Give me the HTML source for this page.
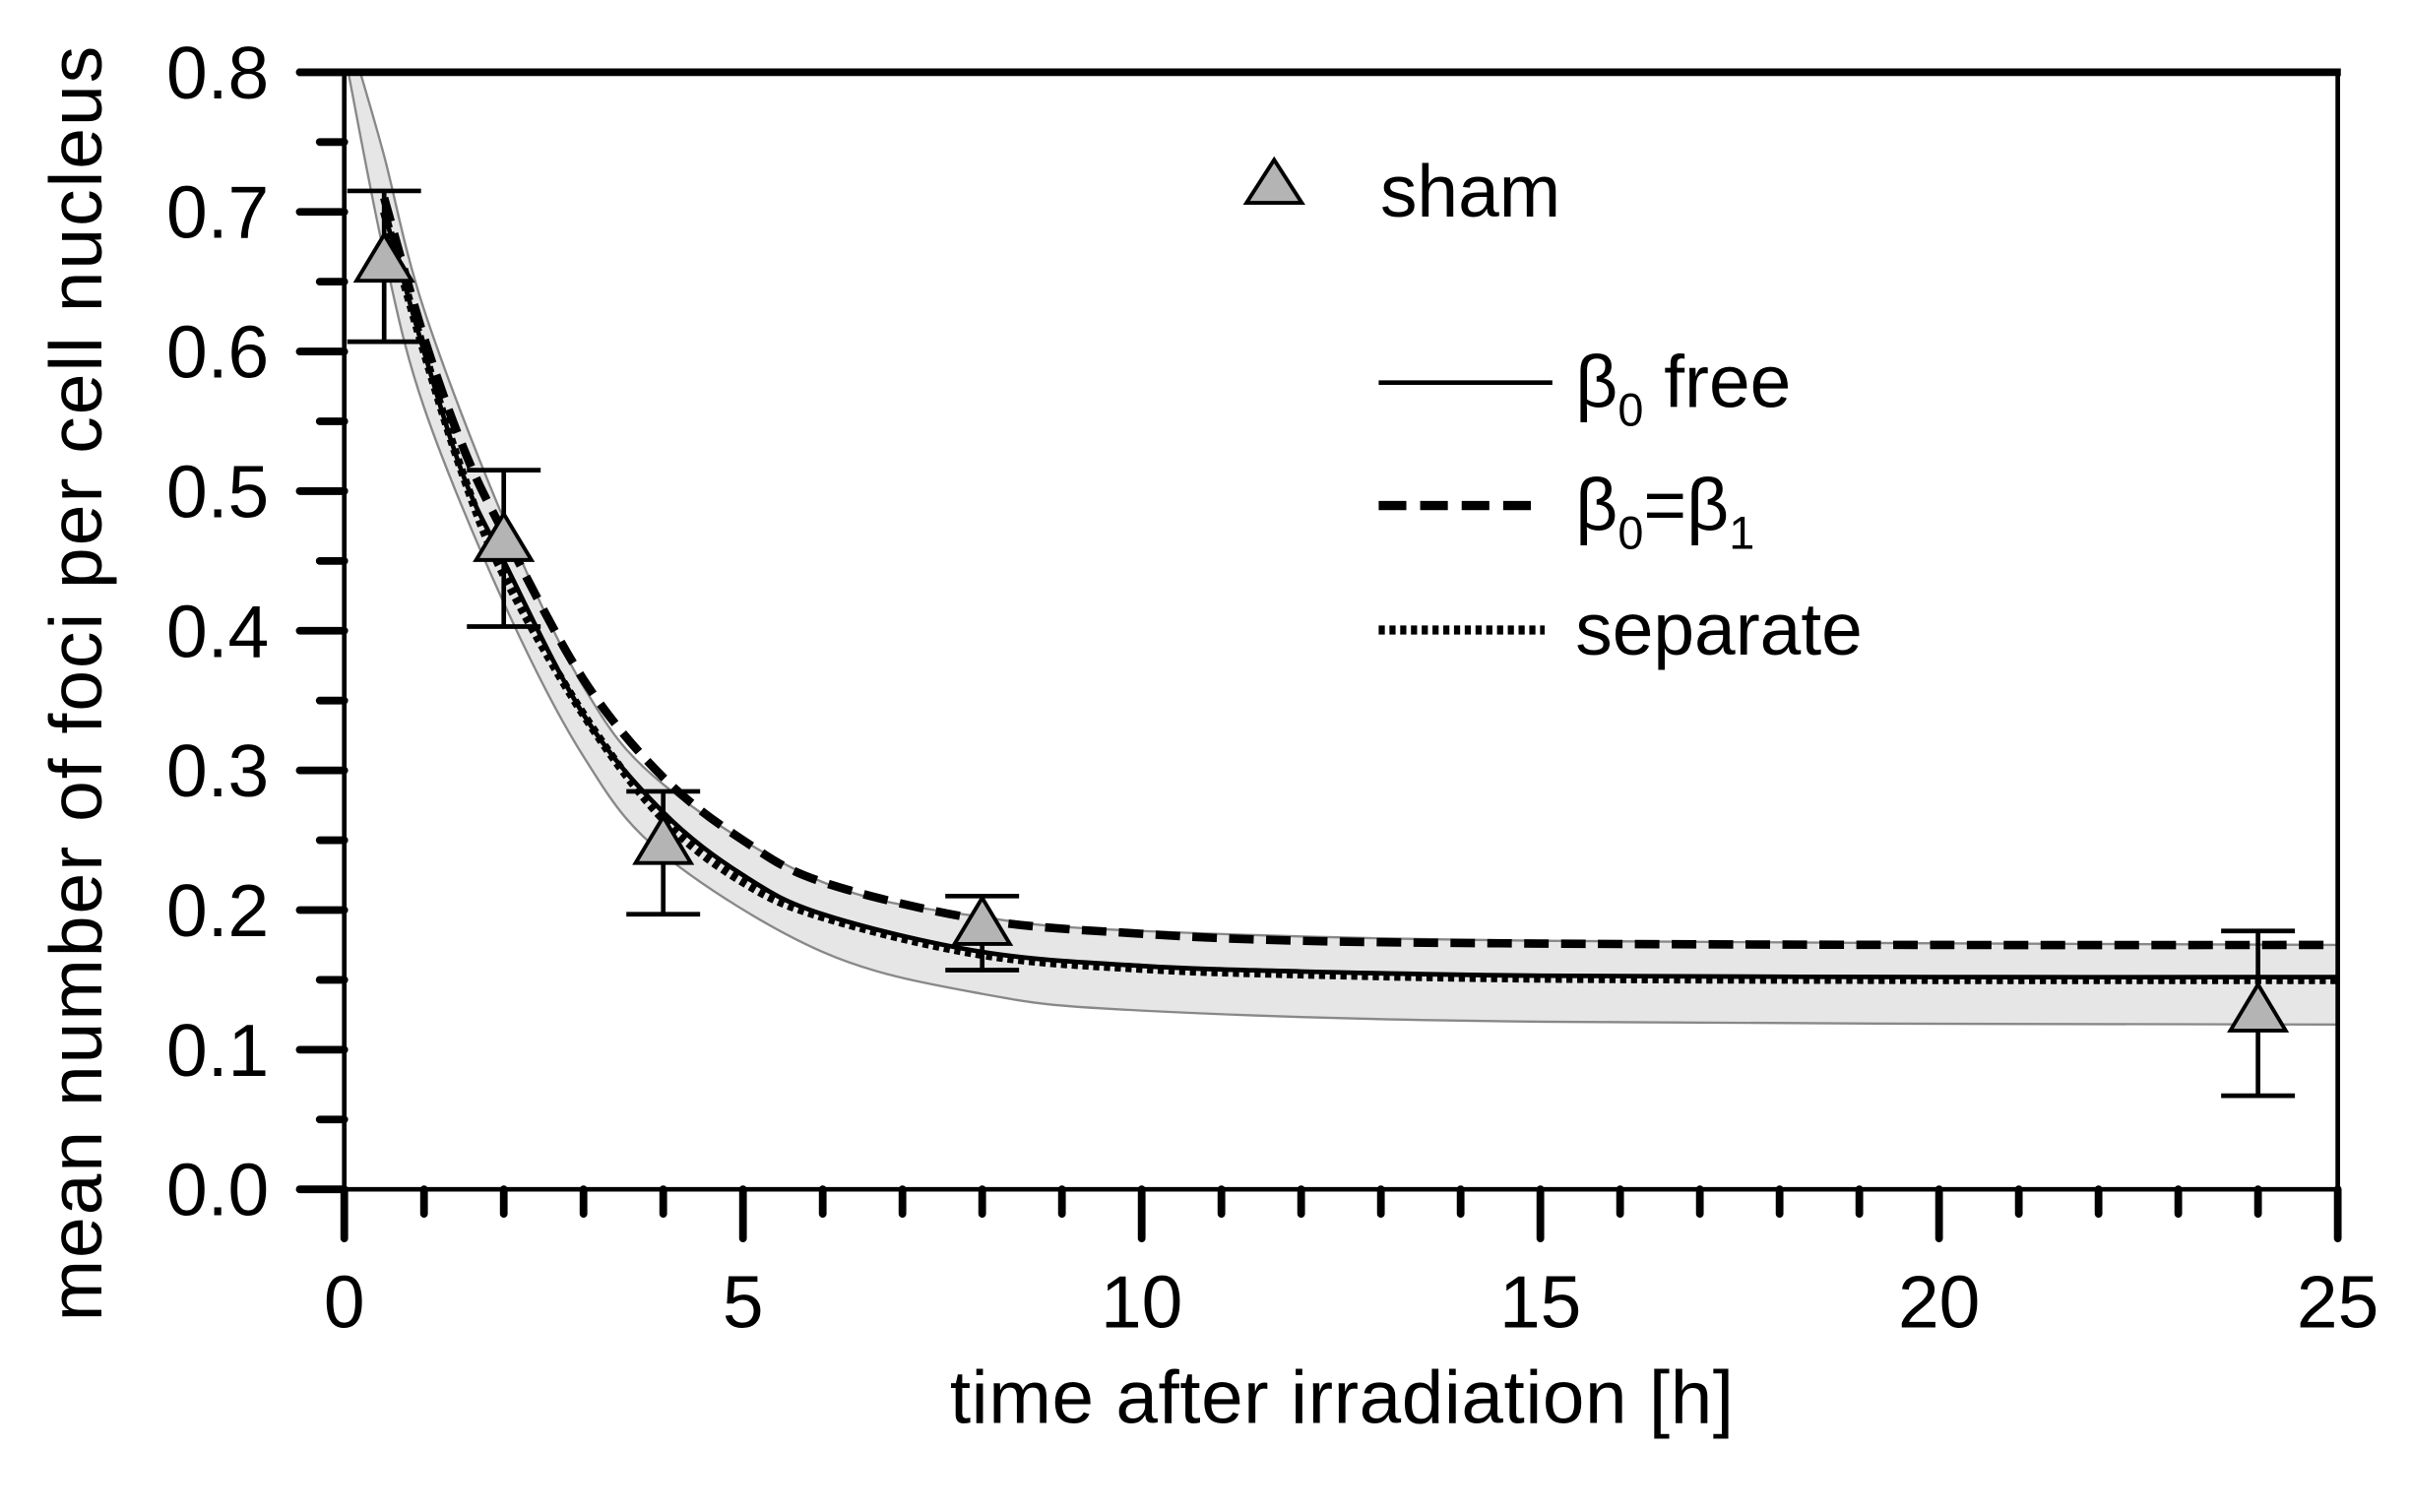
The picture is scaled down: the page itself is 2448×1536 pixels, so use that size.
<!DOCTYPE html>
<html><head><meta charset="utf-8">
<style>
html,body{margin:0;padding:0;background:#fff;}
svg{display:block;}
text{font-family:"Liberation Sans","DejaVu Sans",sans-serif;fill:#000;}
</style></head>
<body>
<svg id="chart" width="2448" height="1536" viewBox="0 0 1568 984" preserveAspectRatio="none" xmlns="http://www.w3.org/2000/svg">
<g id="band"></g>
<g id="curves"></g>
<g id="axes"></g>
<g id="points"></g>
<text x="873" y="926" font-size="49" text-anchor="middle" textLength="510">time after irradiation [h]</text>
<text transform="translate(66,445) rotate(-90)" font-size="48" text-anchor="middle" textLength="830">mean number of foci per cell nucleus</text>
<g>
  <polygon points="829,104 811,132 847,132" fill="#b4b4b4" stroke="#000" stroke-width="2.5"/>
  <text x="898" y="141" font-size="48">sham</text>
  <line x1="897" y1="249" x2="1010" y2="249" stroke="#000" stroke-width="3"/>
  <text x="1025" y="265" font-size="48">β<tspan font-size="30" dy="12">0</tspan><tspan dy="-12"> free</tspan></text>
  <line x1="897" y1="329" x2="1000" y2="329" stroke="#000" stroke-width="6" stroke-dasharray="18,9"/>
  <text x="1025" y="345" font-size="48">β<tspan font-size="30" dy="12">0</tspan><tspan dy="-12">=β</tspan><tspan font-size="30" dy="12">1</tspan></text>
  <line x1="897" y1="410" x2="1005" y2="410" stroke="#000" stroke-width="6" stroke-dasharray="4,3"/>
  <text x="1025" y="426" font-size="48">separate</text>
</g>
</svg>
<script>
const pointX = [0.5, 2, 4, 8, 24];
const pointY = [0.665, 0.465, 0.248, 0.19, 0.128];
const errLow = [0.607, 0.403, 0.197, 0.157, 0.067];
const errHigh = [0.715, 0.515, 0.285, 0.21, 0.185];
const curveT = [0.5, 1, 1.5, 2, 3, 4, 5, 6, 8, 10, 12, 15, 20, 25];
const freeY = [0.70, 0.60, 0.51, 0.45, 0.34, 0.27, 0.225, 0.197, 0.170, 0.160, 0.156, 0.153, 0.152, 0.152];
const equalY = [0.71, 0.61, 0.53, 0.47, 0.365, 0.295, 0.25, 0.22, 0.193, 0.183, 0.178, 0.176, 0.175, 0.175];
const separateY = [0.70, 0.60, 0.51, 0.44, 0.34, 0.265, 0.22, 0.195, 0.168, 0.158, 0.154, 0.151, 0.150, 0.150];
const bandUpperT = [0.2, 0.5, 1, 2, 3, 4, 6, 8, 10, 15, 25];
const bandUpperY = [0.8, 0.74, 0.63, 0.48, 0.36, 0.29, 0.22, 0.195, 0.185, 0.178, 0.175];
const bandLowerT = [0.05, 0.5, 1, 2, 3, 4, 6, 8, 10, 15, 25];
const bandLowerY = [0.8, 0.67, 0.56, 0.42, 0.31, 0.24, 0.17, 0.14, 0.128, 0.12, 0.118];
const xTicks = [0, 5, 10, 15, 20, 25];
const yTicks = [0.0, 0.1, 0.2, 0.3, 0.4, 0.5, 0.6, 0.7, 0.8];

const X0 = 224, X1 = 1521, Y0 = 774, Y1 = 47;
const sx = v => X0 + (v / 25) * (X1 - X0);
const sy = v => Y0 - (v / 0.8) * (Y0 - Y1);
const NS = 'http://www.w3.org/2000/svg';
function mk(tag, attrs, parent) {
  const e = document.createElementNS(NS, tag);
  for (const k in attrs) e.setAttribute(k, attrs[k]);
  parent.appendChild(e);
  return e;
}
function smooth(pts) {
  let d = 'M' + pts[0][0] + ',' + pts[0][1];
  for (let i = 0; i < pts.length - 1; i++) {
    const p0 = pts[Math.max(0, i - 1)], p1 = pts[i], p2 = pts[i + 1], p3 = pts[Math.min(pts.length - 1, i + 2)];
    const c1 = [p1[0] + (p2[0] - p0[0]) / 6, p1[1] + (p2[1] - p0[1]) / 6];
    const c2 = [p2[0] - (p3[0] - p1[0]) / 6, p2[1] - (p3[1] - p1[1]) / 6];
    d += ' C' + c1[0] + ',' + c1[1] + ' ' + c2[0] + ',' + c2[1] + ' ' + p2[0] + ',' + p2[1];
  }
  return d;
}
const band = document.getElementById('band');
const up = bandUpperT.map((t, i) => [sx(t), sy(bandUpperY[i])]);
const lo = bandLowerT.map((t, i) => [sx(t), sy(bandLowerY[i])]);
const upD = smooth(up), loD = smooth(lo);
const loRev = smooth(lo.slice().reverse()).replace(/^M[^C]*/, '');
const fill = mk('path', {d: upD + ' L' + lo[lo.length-1][0] + ',' + lo[lo.length-1][1] + loRev + ' Z', fill: '#e6e6e6', stroke: 'none'}, band);


const bu = mk('path', {d: upD, fill: 'none', stroke: '#888', 'stroke-width': 1.5}, band);


const bl = mk('path', {d: loD, fill: 'none', stroke: '#888', 'stroke-width': 1.5}, band);


const curves = document.getElementById('curves');
const series = [[freeY, 'curve-beta0-free', {'stroke-width': 3}], [equalY, 'curve-beta0-equals-beta1', {'stroke-width': 5.5, 'stroke-dasharray': '16,8'}], [separateY, 'curve-separate', {'stroke-width': 5.5, 'stroke-dasharray': '4,3'}]];
series.forEach(s => {
  const pts = curveT.map((t, i) => [sx(t), sy(s[0][i])]);
  const p = mk('path', Object.assign({d: smooth(pts), fill: 'none', stroke: '#000'}, s[2]), curves);
  
  
});
const axes = document.getElementById('axes');
mk('line', {x1: X0 - 30, y1: Y1, x2: X1 + 2, y2: Y1, stroke: '#000', 'stroke-width': 5}, axes);
mk('line', {x1: X0, y1: Y1, x2: X0, y2: Y0, stroke: '#000', 'stroke-width': 3}, axes);
mk('line', {x1: X1, y1: Y1, x2: X1, y2: Y0, stroke: '#000', 'stroke-width': 3}, axes);
mk('line', {x1: X0 - 30, y1: Y0, x2: X1, y2: Y0, stroke: '#000', 'stroke-width': 3}, axes);
for (let i = 0; i <= 16; i++) {
  const y = sy(i * 0.05);
  mk('line', {x1: i % 2 ? X0 - 16 : X0 - 29, y1: y, x2: X0, y2: y, stroke: '#000', 'stroke-width': 5, 'stroke-linecap': 'round'}, axes);
}
for (let i = 0; i <= 25; i++) {
  const x = sx(i);
  mk('line', {x1: x, y1: Y0, x2: x, y2: i % 5 ? Y0 + 16 : Y0 + 32, stroke: '#000', 'stroke-width': 5, 'stroke-linecap': 'round'}, axes);
}
xTicks.forEach(v => {
  const t = mk('text', {x: sx(v), y: 864, 'font-size': 48, 'text-anchor': 'middle'}, axes);
  t.textContent = String(v);
  
  
});
yTicks.forEach(v => {
  const t = mk('text', {x: 175, y: sy(v) + 17, 'font-size': 48, 'text-anchor': 'end'}, axes);
  t.textContent = v.toFixed(1);
  
  
});
const pg = document.getElementById('points');
pointX.forEach((v, i) => {
  const x = sx(v), y = sy(pointY[i]), yl = sy(errLow[i]), yh = sy(errHigh[i]);
  const g = mk('g', {}, pg);
  
  
  mk('line', {x1: x, y1: yl, x2: x, y2: yh, stroke: '#000', 'stroke-width': 3}, g);
  mk('line', {x1: x - 24, y1: yl, x2: x + 24, y2: yl, stroke: '#000', 'stroke-width': 3}, g);
  mk('line', {x1: x - 24, y1: yh, x2: x + 24, y2: yh, stroke: '#000', 'stroke-width': 3}, g);
  mk('polygon', {points: x + ',' + (y - 17) + ' ' + (x - 18) + ',' + (y + 13) + ' ' + (x + 18) + ',' + (y + 13), fill: '#b4b4b4', stroke: '#000', 'stroke-width': 2.5}, g);
});
</script>
</body></html>
